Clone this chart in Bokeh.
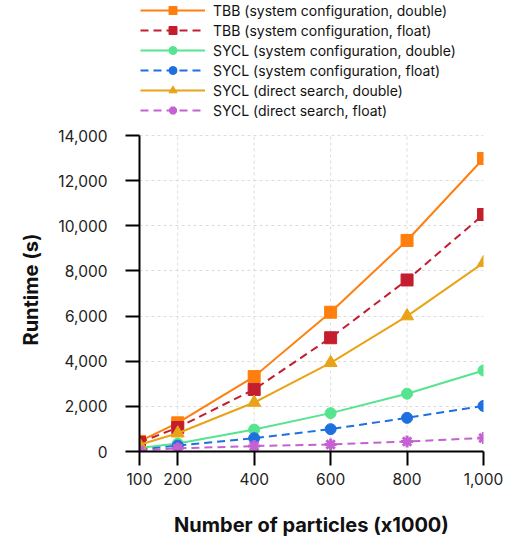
from bokeh.plotting import figure
from bokeh.models import Range1d, Legend, LegendItem, NumeralTickFormatter, FixedTicker, Title
from bokeh.embed import file_html
from bokeh.resources import INLINE

particles = [100, 200, 400, 600, 800, 1000]
tbb_sys_double = [450, 1270, 3320, 6170, 9350, 12980]
tbb_sys_float = [400, 1060, 2750, 5040, 7600, 10500]
sycl_sys_double = [150, 350, 970, 1700, 2560, 3590]
sycl_sys_float = [90, 260, 590, 990, 1490, 2020]
sycl_direct_double = [300, 810, 2170, 3930, 6000, 8360]
sycl_direct_float = [40, 140, 240, 310, 440, 600]

series_labels = [
    "TBB (system configuration, double)",
    "TBB (system configuration, float)",
    "SYCL (system configuration, double)",
    "SYCL (system configuration, float)",
    "SYCL (direct search, double)",
    "SYCL (direct search, float)",
]
y_ticks = [0, 2000, 4000, 6000, 8000, 10000, 12000, 14000]
x_grid = [200, 400, 600, 800]

FONT = "Inter"

# frame spans the whole height; the top part of the y range hosts the legend
FRAME_H = 451
Y_TOP = y_ticks[-1] * FRAME_H / 316.0

p = figure(width=516, height=541, output_backend="svg", toolbar_location=None,
           x_range=Range1d(particles[0], particles[-1]), y_range=Range1d(0, Y_TOP),
           min_border_left=139, min_border_right=33, min_border_bottom=90,
           min_border_top=0)
p.outline_line_color = None
p.background_fill_color = "white"
p.border_fill_color = "white"

# grid
p.xgrid[0].grid_line_color = None
p.ygrid[0].grid_line_color = "#dddddd"
p.ygrid[0].grid_line_dash = "3 3"
p.ygrid[0].grid_line_width = 1
p.ygrid[0].bounds = (y_ticks[0], y_ticks[-1])
p.segment(x0=x_grid, y0=[y_ticks[0]] * len(x_grid), x1=x_grid, y1=[y_ticks[-1]] * len(x_grid),
          line_color="#dddddd", line_dash="3 3", line_width=1)

styles = [
    (tbb_sys_double, "#ff7f0e", "solid", "square", 12),
    (tbb_sys_float, "#c41e2e", "8 5", "square", 12),
    (sycl_sys_double, "#55e48f", "solid", "circle", 11),
    (sycl_sys_float, "#1f6fe0", "8 5", "circle", 11),
    (sycl_direct_double, "#e9a317", "solid", "triangle", 13),
    (sycl_direct_float, "#c462d2", "8 5", "asterisk", 12),
]

items = []
for (vals, color, dash, marker, size), label in zip(styles, series_labels):
    r1 = p.line(particles, vals, line_color=color, line_width=2, line_dash=dash)
    if marker == "asterisk":
        r2 = p.scatter(particles, vals, marker=marker, size=size, line_color=color, line_width=3)
    else:
        r2 = p.scatter(particles, vals, marker=marker, size=size, fill_color=color, line_color=color)
    items.append(LegendItem(label=label, renderers=[r1, r2]))

legend = Legend(items=items, location=(1, FRAME_H - 120), orientation="vertical",
                glyph_width=65, glyph_height=20, label_height=20, spacing=0,
                padding=0, margin=0, label_standoff=8,
                label_text_font=FONT, label_text_font_size="14px", label_text_color="#111111",
                border_line_color=None, background_fill_alpha=0)
p.add_layout(legend)

for ax in (p.xaxis[0], p.yaxis[0]):
    ax.axis_line_color = "black"
    ax.axis_line_width = 2
    ax.major_tick_line_color = "black"
    ax.major_tick_line_width = 2
    ax.major_tick_out = 14
    ax.major_tick_in = 0
    ax.minor_tick_line_color = None
    ax.major_label_text_font = FONT
    ax.major_label_text_font_size = "15.5px"
    ax.major_label_text_color = "#222222"
    ax.axis_label_text_font = FONT
    ax.axis_label_text_font_size = "20px"
    ax.axis_label_text_font_style = "bold"
    ax.axis_label_text_color = "#111111"
    ax.formatter = NumeralTickFormatter(format="0,0")

p.xaxis[0].ticker = FixedTicker(ticks=particles)
p.yaxis[0].ticker = FixedTicker(ticks=y_ticks)
p.yaxis[0].bounds = (y_ticks[0], y_ticks[-1])
p.xaxis[0].axis_label = "Number of particles (x1000)"
p.xaxis[0].major_label_standoff = 7
p.yaxis[0].major_label_standoff = 18
p.xaxis[0].axis_label_standoff = 25

# y-axis title centred on the 0..14,000 part of the axis
ytitle = Title(text="Runtime (s)", align="left", offset=106, vertical_align="bottom",
               standoff=26, text_font=FONT, text_font_size="20px", text_font_style="bold",
               text_color="#111111")
p.add_layout(ytitle, "left")

open("out.html", "w").write(file_html(p, INLINE))
